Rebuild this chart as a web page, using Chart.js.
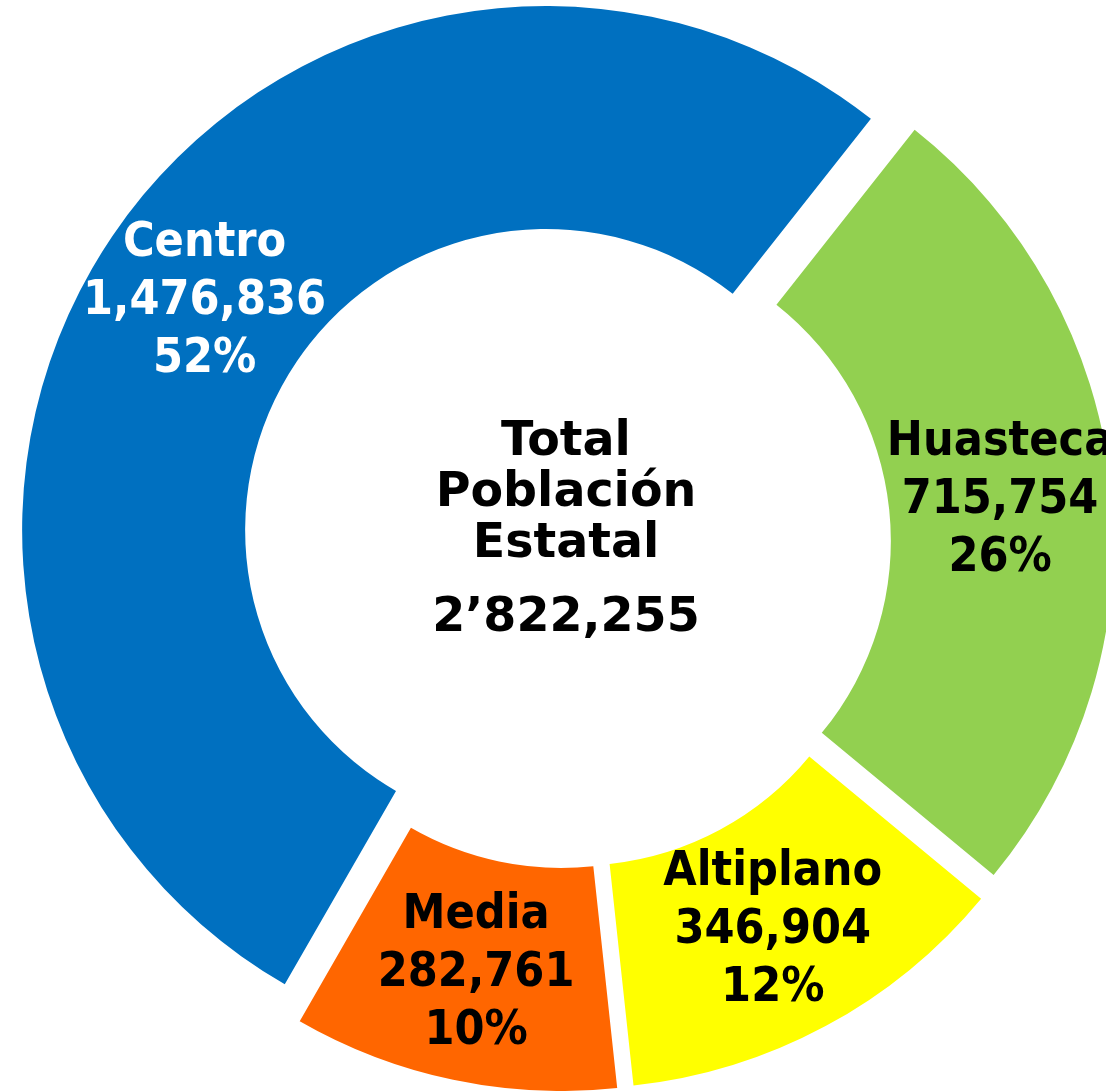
<!DOCTYPE html>
<html lang="es">
<head>
<meta charset="utf-8">
<title>Población por región</title>
<script src="https://cdn.jsdelivr.net/npm/chart.js@4/dist/chart.umd.min.js"></script>
<style>
  html, body { margin: 0; padding: 0; background: #fff; overflow: hidden; }
  #wrap { width: 1106px; height: 1091px; }
</style>
</head>
<body>
<div id="wrap"><canvas id="regionChart" width="1106" height="1091"></canvas></div>
<script>
// Población por región, en sentido horario desde la Huasteca
const regiones = ["Huasteca", "Altiplano", "Media", "Centro"];
const poblacion = [715754, 346904, 282761, 1476836];
const porcentajes = ["26%", "12%", "10%", "52%"];
const colores = ["#92D050", "#FFFF00", "#FF6600", "#0070C0"];
const coloresTexto = ["#000000", "#000000", "#000000", "#FFFFFF"];
const tituloCentro = ["Total", "Población", "Estatal"];

const LABEL_FONT = "bold 48px 'DejaVu Sans Condensed', 'DejaVu Sans'";
const CENTER_FONT = "bold 47.5px 'DejaVu Sans'";

function fmt(n) {
  return n.toLocaleString("en-US");
}

// total con apóstrofo en los millones: 2’822,255
function fmtTotal(n) {
  return fmt(n).replace(",", "\u2019");
}

// separa cada sector a lo largo de su bisectriz
const explodePlugin = {
  id: "explode",
  afterDatasetUpdate(chart, args, opts) {
    args.meta.data.forEach(arc => {
      const mid = (arc.startAngle + arc.endAngle) / 2;
      arc.x += Math.cos(mid) * opts.distance;
      arc.y += Math.sin(mid) * opts.distance;
    });
  }
};

// etiquetas de cada sector y total al centro
const labelsPlugin = {
  id: "sectorLabels",
  afterDatasetsDraw(chart) {
    const ctx = chart.ctx;
    const meta = chart.getDatasetMeta(0);

    ctx.save();
    ctx.textAlign = "center";
    ctx.textBaseline = "middle";
    ctx.font = LABEL_FONT;
    meta.data.forEach((arc, i) => {
      const { x, y } = arc.getCenterPoint();
      const lines = [regiones[i], fmt(poblacion[i]), porcentajes[i]];
      ctx.fillStyle = coloresTexto[i];
      lines.forEach((t, j) => ctx.fillText(t, x, y + 3 + (j - 1) * 58));
    });

    const area = chart.chartArea;
    const cx = (area.left + area.right) / 2;
    const cy = (area.top + area.bottom) / 2;
    const total = poblacion.reduce((a, b) => a + b, 0);

    ctx.textBaseline = "alphabetic";
    ctx.fillStyle = "#000000";
    ctx.font = CENTER_FONT;
    tituloCentro.forEach((t, j) => ctx.fillText(t, cx, cy - 88.5 + j * 51));
    ctx.fillText(fmtTotal(total), cx, cy + 87.5);
    ctx.restore();
  }
};

const ctx = document.getElementById("regionChart").getContext("2d");

new Chart(ctx, {
  type: "doughnut",
  data: {
    labels: regiones,
    datasets: [{
      data: poblacion,
      backgroundColor: colores,
      borderWidth: 0,
      radius: 524,
      clip: false
    }]
  },
  options: {
    responsive: false,
    animation: false,
    events: [],
    rotation: 38.3,
    cutout: "57.44%",
    layout: {
      padding: { left: 26, right: 0, top: 0, bottom: 4 }
    },
    plugins: {
      legend: { display: false },
      tooltip: { enabled: false },
      explode: { distance: 24 }
    }
  },
  plugins: [explodePlugin, labelsPlugin]
});
</script>
</body>
</html>
